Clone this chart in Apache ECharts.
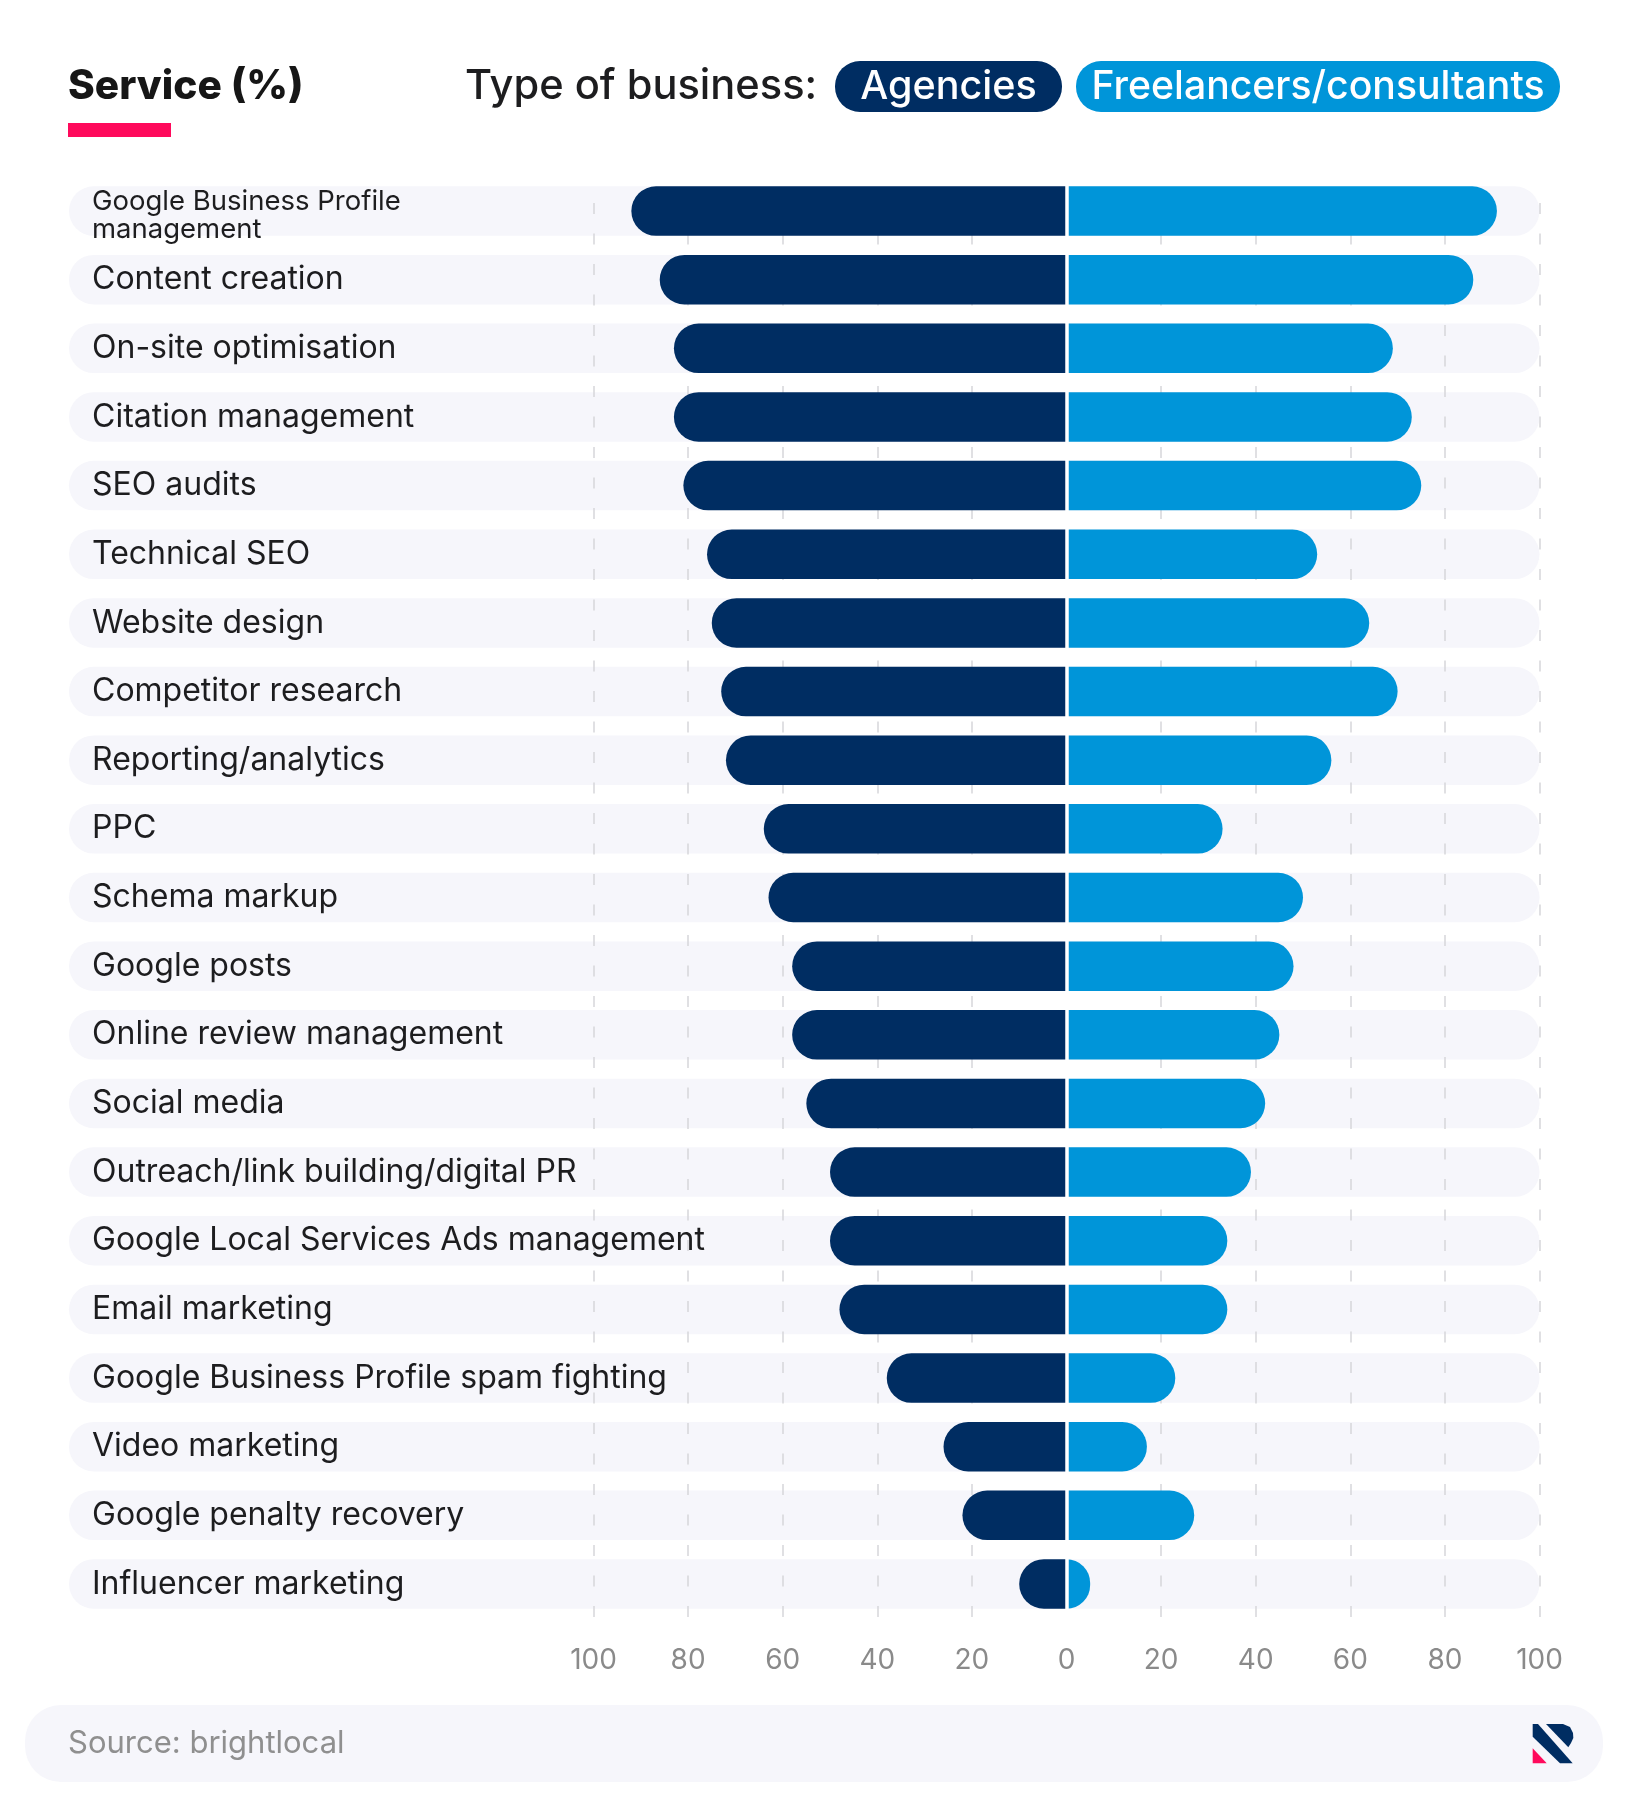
<!DOCTYPE html>
<html>
<head>
    <meta charset="utf-8">
    <title>Service (%)</title>
    <style>
        html, body { margin: 0; padding: 0; background: #fff; }
        #chart { width: 1628px; height: 1814px; }
    </style>
</head>
<body>
    <div id="chart"></div>
    <script src="https://cdn.jsdelivr.net/npm/echarts@6/dist/echarts.min.js"></script>
    <script type="text/javascript">
        var categories = [
            'Google Business Profile\nmanagement', 'Content creation', 'On-site optimisation',
            'Citation management', 'SEO audits', 'Technical SEO', 'Website design',
            'Competitor research', 'Reporting/analytics', 'PPC', 'Schema markup', 'Google posts',
            'Online review management', 'Social media', 'Outreach/link building/digital PR',
            'Google Local Services Ads management', 'Email marketing',
            'Google Business Profile spam fighting', 'Video marketing', 'Google penalty recovery',
            'Influencer marketing'
        ];
        var agencies = [92, 86, 83, 83, 81, 76, 75, 73, 72, 64, 63, 58, 58, 55, 50, 50, 48, 38, 26, 22, 10];
        var freelancers = [91, 86, 69, 73, 75, 53, 64, 70, 56, 33, 50, 48, 45, 42, 39, 34, 34, 23, 17, 27, 5];
        var tickValues = [-100, -80, -60, -40, -20, 0, 20, 40, 60, 80, 100];

        var fontBody = 'Inter';
        var navy = '#002d62';
        var blue = '#0095d9';
        var track = '#f6f6fb';
        var pink = '#ff0a5c';

        function pill(x, y, w, h, color, r) {
            return { type: 'rect', z: 1, shape: { x: x, y: y, width: w, height: h, r: r }, style: { fill: color } };
        }
        function label(x, y, text, size, weight, color, align) {
            return {
                type: 'text', z: 2, x: x, y: y,
                style: {
                    text: text, fill: color, font: weight + ' ' + size + 'px ' + fontBody,
                    textAlign: align || 'left', textVerticalAlign: 'middle'
                }
            };
        }

        var chart = echarts.init(document.getElementById('chart'));
        chart.setOption({
            animation: false,
            backgroundColor: '#ffffff',
            grid: [
                // rows with their pale tracks and the service names
                { left: 69, width: 1470.5, top: 176.7, height: 1441.6 },
                // the bars
                { left: 593.5, width: 946, top: 176.7, height: 1441.6 },
                // tick labels and dashed lines, these start a little below the first row top
                { left: 593.5, width: 946, top: 203, height: 1415.3 }
            ],
            xAxis: [
                { gridIndex: 0, type: 'value', min: 0, max: 1, show: false },
                { gridIndex: 1, type: 'value', min: -100, max: 100, show: false },
                {
                    gridIndex: 2, type: 'value', min: -100, max: 100, interval: 20, z: 2,
                    axisLine: { show: false },
                    axisTick: { show: false },
                    axisLabel: {
                        margin: 28, color: '#8a8a8a', fontFamily: fontBody, fontSize: 28,
                        customValues: tickValues,
                        formatter: function (v) { return Math.abs(v); }
                    },
                    splitLine: {
                        show: true,
                        lineStyle: { color: '#d6d6da', width: 1.5, type: [11, 19.5] }
                    }
                }
            ],
            yAxis: [
                {
                    gridIndex: 0, type: 'category', data: categories, inverse: true, z: 3,
                    axisLine: { show: false },
                    axisTick: { show: false },
                    axisLabel: {
                        inside: true, margin: 23, color: '#1d1d1f', fontFamily: fontBody, fontSize: 32,
                        // the one wrapped name is set smaller and sits a bit low in its row
                        formatter: function (v) {
                            var lines = v.split('\n');
                            return lines.length > 1 ? '{first|' + lines[0] + '}\n{second|' + lines[1] + '}' : v;
                        },
                        rich: {
                            first: { fontFamily: fontBody, fontSize: 27.5, lineHeight: 38, verticalAlign: 'bottom', color: '#1d1d1f' },
                            second: { fontFamily: fontBody, fontSize: 27.5, lineHeight: 28, color: '#1d1d1f' }
                        }
                    }
                },
                {
                    // white divider at zero
                    gridIndex: 1, type: 'category', data: categories, inverse: true, z: 5,
                    axisLine: { show: true, onZero: true, lineStyle: { color: '#ffffff', width: 3.5 } },
                    axisTick: { show: false },
                    axisLabel: { show: false }
                },
                { gridIndex: 2, type: 'category', data: categories, inverse: true, show: false }
            ],
            series: [
                {
                    name: 'Track', type: 'bar', xAxisIndex: 0, yAxisIndex: 0, z: 1, barWidth: 49.5,
                    silent: true,
                    data: categories.map(function () { return 1; }),
                    itemStyle: { color: track, borderRadius: 25 }
                },
                {
                    name: 'Agencies', type: 'bar', xAxisIndex: 1, yAxisIndex: 1, stack: 'all', z: 4, barWidth: 49.5,
                    data: agencies.map(function (v) { return -v; }),
                    itemStyle: { color: navy, borderRadius: [25, 0, 0, 25] }
                },
                {
                    name: 'Freelancers/consultants', type: 'bar', xAxisIndex: 1, yAxisIndex: 1, stack: 'all', z: 4, barWidth: 49.5,
                    data: freelancers,
                    itemStyle: { color: blue, borderRadius: [0, 25, 25, 0] }
                }
            ],
            graphic: [
                label(68, 87, 'Service (%)', 40.6, 800, '#161616'),
                { type: 'rect', shape: { x: 68, y: 123, width: 103, height: 14 }, style: { fill: pink } },
                label(465, 86, 'Type of business:', 41.6, 500, '#1d1d1f'),
                pill(835, 61, 227, 51, navy, 25),
                label(948.5, 87, 'Agencies', 39.5, 500, '#ffffff', 'center'),
                pill(1076, 61, 484, 51, blue, 25),
                label(1318, 87, 'Freelancers/consultants', 39.2, 500, '#ffffff', 'center'),
                pill(25, 1705, 1578, 77, track, 36),
                label(68, 1744, 'Source: brightlocal', 31, 400, '#8f8f8f'),
                // logo
                { type: 'polygon', z: 2, shape: { points: [[1532.7, 1748.3], [1532.7, 1763.3], [1546.7, 1763.3]] }, style: { fill: pink } },
                { type: 'polygon', z: 2, shape: { points: [[1532.7, 1724], [1538, 1724], [1572.7, 1763.3], [1560, 1763.3], [1532.7, 1736.7]] }, style: { fill: navy } },
                { type: 'polygon', z: 2, shape: { points: [[1546, 1724], [1563, 1724], [1570, 1727], [1573, 1733], [1573.3, 1738], [1571, 1743], [1568.3, 1747.3]] }, style: { fill: navy } }
            ]
        });
    </script>
</body>
</html>
